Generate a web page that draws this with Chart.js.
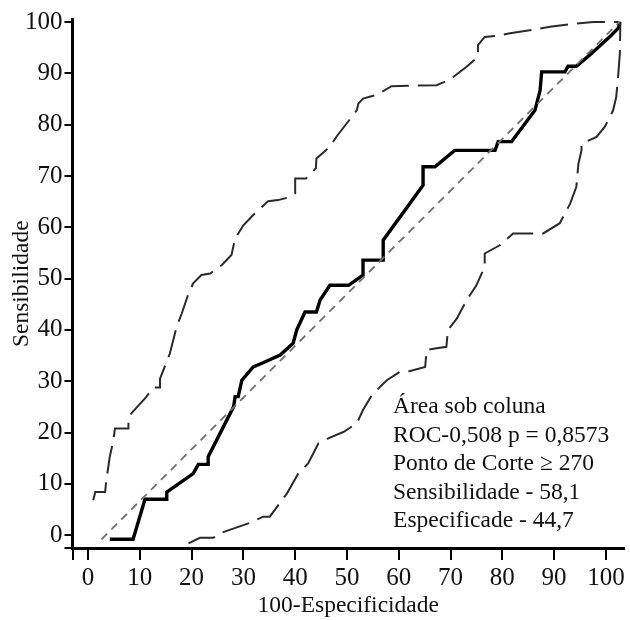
<!DOCTYPE html>
<html>
<head>
<meta charset="utf-8">
<script src="https://cdn.jsdelivr.net/npm/chart.js@4"></script>
<style>
  body { margin: 0; background: #fff; }
  #caja { width: 630px; height: 620px; }
</style>
</head>
<body>
<div id="caja"><canvas id="curvaROC" width="630" height="620"></canvas></div>
<script>
// datos (x = 100-Especificidade, y = Sensibilidade)
var curvaROC = [[4.2,-0.8],[8.7,-0.8],[11.0,7.0],[15.2,7.0],[15.2,8.4],[20.3,12.0],[21.3,13.8],[23.2,13.8],[23.2,15.3],
    [28.1,25.0],[28.4,27.0],[29.0,27.0],[29.7,30.2],[31.9,32.8],[33.8,33.6],[37.1,35.1],[39.6,37.4],[40.3,40.0],
    [41.9,43.5],[44.1,43.5],[44.8,45.8],[46.7,48.7],[50.3,48.7],[53.1,50.7],[53.1,53.6],[57.0,53.6],[57.0,57.5],
    [64.7,68.2],[64.7,71.8],[67.0,71.8],[70.8,75.0],[78.6,75.0],[79.2,76.7],[81.8,76.7],[86.3,82.8],[87.3,86.7],
    [87.6,90.3],[92.1,90.3],[92.7,91.4],[94.3,91.4],[96.9,93.6],[100.8,97.2],[102.4,98.8],[102.7,100.1]];

var limiteSuperior = [[1.0,6.8],[1.4,8.4],[3.3,8.4],[3.5,10.4],[4.2,15.3],[4.9,18.5],[5.2,20.8],[7.8,20.8],[7.8,23.1],
    [11.3,27.0],[12.6,28.8],[13.9,28.8],[13.9,30.5],[15.8,35.4],[17.1,40.6],[18.1,43.2],[19.4,47.1],[20.3,49.1],
    [21.9,50.7],[23.6,51.0],[25.8,52.6],[27.7,54.6],[28.4,57.8],[30.0,60.4],[31.9,62.4],[34.8,65.1],[36.7,65.3],
    [39.0,65.9],[40.0,66.6],[40.0,69.5],[42.1,69.5],[44.0,71.5],[44.1,73.4],[46.7,75.7],[48.0,77.7],[51.9,82.8],
    [52.2,84.1],[53.1,85.1],[55.7,85.8],[58.6,87.5],[67.3,87.7],[69.9,88.8],[73.1,91.3],[75.3,93.2],[75.3,95.5],
    [76.6,97.1],[78.9,97.3],[81.5,97.8],[85.3,98.4],[89.2,99.1],[93.1,99.6],[97.6,100.0],[102.4,100.0]];

var limiteInferior = [[19.4,-1.6],[21.6,-0.5],[24.2,-0.5],[26.1,0.6],[31.3,2.4],[33.8,3.6],[35.1,3.6],[38.4,8.1],
    [40.6,12.0],[42.5,14.0],[44.5,17.9],[46.7,19.0],[49.3,20.1],[51.9,21.8],[53.1,24.4],[54.8,27.3],[57.7,30.2],
    [60.2,31.8],[62.2,32.0],[65.1,32.8],[65.4,36.1],[67.0,36.4],[69.2,36.7],[69.5,40.0],[71.2,42.2],[73.1,45.8],
    [75.0,48.7],[76.6,52.3],[76.6,54.9],[79.5,56.5],[82.1,58.8],[87.9,58.8],[91.1,60.8],[93.1,64.6],[94.3,67.9],
    [94.7,72.4],[95.3,75.0],[95.3,76.3],[98.2,77.6],[99.8,79.6],[101.4,82.8],[102.0,85.4],[102.4,89.9],
    [102.7,93.9],[102.8,100.0]];

var diagonal = [[2.6,-0.8],[102.6,100.0]];

var ticksX = [0,10,20,30,40,50,60,70,80,90,100];
var ticksY = [0,10,20,30,40,50,60,70,80,90,100];

var textoROC = ["Área sob coluna", "ROC-0,508 p = 0,8573", "Ponto de Corte \u2265 270", "Sensibilidade - 58,1", "Especificade - 44,7"];

var fuente = "'Liberation Serif', 'DejaVu Serif', serif";

function puntos(lista) {
    return lista.map(function(p) { return {x: p[0], y: p[1]}; });
}

// texto de la caja en la esquina de abajo
var pluginTexto = {
    id: 'textoROC',
    afterDatasetsDraw: function(chart) {
        var ctx = chart.ctx;
        var x0 = chart.scales.x.getPixelForValue(58.9);
        var y0 = chart.scales.y.getPixelForValue(23.8);
        ctx.save();
        ctx.fillStyle = '#111';
        ctx.font = '23.5px ' + fuente;
        ctx.textAlign = 'left';
        ctx.textBaseline = 'alphabetic';
        textoROC.forEach(function(t, i) {
            ctx.fillText(t, x0, y0 + i * 28.5);
        });
        ctx.restore();
    }
};

var grafica = document.getElementById("curvaROC");
var miGrafica = new Chart(grafica, {
    type: "line",
    data: {
        datasets: [{
            data: puntos(diagonal),
            borderColor: "#6f6f6f",
            borderWidth: 1.8,
            borderDash: [8, 6]
        }, {
            data: puntos(limiteSuperior),
            borderColor: "#2a2a2a",
            borderWidth: 2,
            borderDash: [28, 9]
        }, {
            data: puntos(limiteInferior),
            borderColor: "#2a2a2a",
            borderWidth: 2,
            borderDash: [28, 9]
        }, {
            data: puntos(curvaROC),
            borderColor: "#000",
            borderWidth: 3.4
        }]
    },
    options: {
        responsive: false,
        animation: false,
        layout: { padding: { top: 19.5, right: 6, left: 0, bottom: 0 } },
        elements: { point: { radius: 0 }, line: { tension: 0 } },
        plugins: { legend: { display: false }, tooltip: { enabled: false } },
        scales: {
            x: {
                type: "linear",
                min: -3,
                max: 103.5,
                afterBuildTicks: function(s) {
                    s.ticks = [{value: -3}].concat(ticksX.map(function(v) { return {value: v}; }));
                },
                afterFit: function(s) { s.height = 72; },
                ticks: {
                    color: "#111",
                    font: { family: fuente, size: 25 },
                    padding: 3,
                    maxRotation: 0,
                    callback: function(v) { return ticksX.indexOf(v) >= 0 ? String(v) : ""; }
                },
                grid: { drawOnChartArea: false, color: "#000", lineWidth: 2, tickLength: 12 },
                border: { display: true, color: "#000", width: 3 },
                title: {
                    display: true,
                    text: "100-Especificidade",
                    color: "#111",
                    font: { family: fuente, size: 23.5 },
                    padding: { top: 0, bottom: 0 }
                }
            },
            y: {
                type: "linear",
                min: -2.5,
                max: 100.5,
                afterBuildTicks: function(s) {
                    s.ticks = [{value: -2.5}].concat(ticksY.map(function(v) { return {value: v}; }));
                },
                afterFit: function(s) { s.width = 72.5; },
                ticks: {
                    color: "#111",
                    font: { family: fuente, size: 25 },
                    padding: 2,
                    callback: function(v) { return ticksY.indexOf(v) >= 0 ? String(v) : ""; }
                },
                grid: { drawOnChartArea: false, color: "#000", lineWidth: 2, tickLength: 8 },
                border: { display: true, color: "#000", width: 3 },
                title: {
                    display: true,
                    text: "Sensibilidade",
                    color: "#111",
                    font: { family: fuente, size: 23.5 },
                    padding: { top: 8, bottom: 0 }
                }
            }
        }
    },
    plugins: [pluginTexto]
});
</script>
</body>
</html>
